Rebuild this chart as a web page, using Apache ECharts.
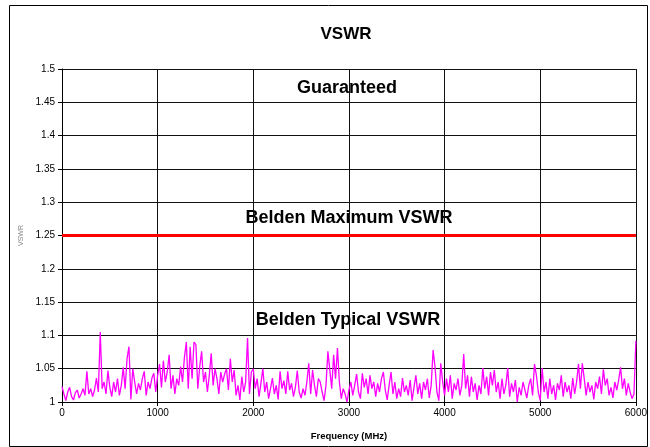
<!DOCTYPE html>
<html>
<head>
<meta charset="utf-8">
<script src="https://cdn.jsdelivr.net/npm/echarts@6/dist/echarts.min.js"></script>
<style>
  html, body { margin: 0; padding: 0; background: #fff; }
  #chart { width: 650px; height: 447px; }
</style>
</head>
<body>
<div id="chart"></div>
<script>
// frequency sweep (MHz), one sample every 20 MHz
var freqMHz = [
  0,20,40,60,80,100,120,140,160,180,200,220,240,260,280,300,320,340,360,380,
  400,420,440,460,480,500,520,540,560,580,600,620,640,660,680,700,720,740,760,780,
  800,820,840,860,880,900,920,940,960,980,1000,1020,1040,1060,1080,1100,1120,1140,1160,1180,
  1200,1220,1240,1260,1280,1300,1320,1340,1360,1380,1400,1420,1440,1460,1480,1500,1520,1540,1560,1580,
  1600,1620,1640,1660,1680,1700,1720,1740,1760,1780,1800,1820,1840,1860,1880,1900,1920,1940,1960,1980,
  2000,2020,2040,2060,2080,2100,2120,2140,2160,2180,2200,2220,2240,2260,2280,2300,2320,2340,2360,2380,
  2400,2420,2440,2460,2480,2500,2520,2540,2560,2580,2600,2620,2640,2660,2680,2700,2720,2740,2760,2780,
  2800,2820,2840,2860,2880,2900,2920,2940,2960,2980,3000,3020,3040,3060,3080,3100,3120,3140,3160,3180,
  3200,3220,3240,3260,3280,3300,3320,3340,3360,3380,3400,3420,3440,3460,3480,3500,3520,3540,3560,3580,
  3600,3620,3640,3660,3680,3700,3720,3740,3760,3780,3800,3820,3840,3860,3880,3900,3920,3940,3960,3980,
  4000,4020,4040,4060,4080,4100,4120,4140,4160,4180,4200,4220,4240,4260,4280,4300,4320,4340,4360,4380,
  4400,4420,4440,4460,4480,4500,4520,4540,4560,4580,4600,4620,4640,4660,4680,4700,4720,4740,4760,4780,
  4800,4820,4840,4860,4880,4900,4920,4940,4960,4980,5000,5020,5040,5060,5080,5100,5120,5140,5160,5180,
  5200,5220,5240,5260,5280,5300,5320,5340,5360,5380,5400,5420,5440,5460,5480,5500,5520,5540,5560,5580,
  5600,5620,5640,5660,5680,5700,5720,5740,5760,5780,5800,5820,5840,5860,5880,5900,5920,5940,5960,5980,
  6000
];

var typicalVswr = [
  1.023,1.012,1.002,1.015,1.022,1.008,1.003,1.014,1.018,1.006,1.012,1.02,1.01,1.046,1.012,1.02,1.008,1.018,1.036,1.015,
  1.105,1.02,1.03,1.012,1.047,1.022,1.008,1.03,1.015,1.035,1.01,1.025,1.052,1.02,1.065,1.083,1.004,1.05,1.03,1.012,
  1.028,1.018,1.035,1.046,1.01,1.03,1.02,1.036,1.043,1.015,1.04,1.057,1.022,1.062,1.03,1.045,1.071,1.02,1.04,1.012,
  1.035,1.025,1.053,1.03,1.067,1.09,1.02,1.083,1.035,1.09,1.086,1.02,1.053,1.076,1.03,1.045,1.015,1.04,1.073,1.025,
  1.05,1.035,1.012,1.045,1.03,1.042,1.05,1.018,1.065,1.03,1.048,1.01,1.025,1.003,1.038,1.015,1.03,1.096,1.012,1.045,
  1.05,1.02,1.035,1.008,1.028,1.05,1.015,1.03,1.005,1.02,1.036,1.012,1.025,1.004,1.046,1.02,1.032,1.012,1.046,1.018,
  1.028,1.008,1.022,1.047,1.015,1.006,1.02,1.01,1.03,1.058,1.012,1.048,1.025,1.008,1.035,1.03,1.015,1.002,1.025,1.076,
  1.073,1.02,1.071,1.035,1.081,1.03,1.005,1.02,1.012,1.0,1.018,1.03,1.01,1.025,1.042,1.015,1.005,1.043,1.022,1.035,
  1.012,1.04,1.02,1.03,1.008,1.028,1.015,1.035,1.045,1.018,1.003,1.025,1.045,1.012,1.03,1.005,1.02,1.008,1.036,1.015,
  1.025,1.01,1.033,1.002,1.022,1.04,1.012,1.028,1.005,1.03,1.018,1.035,1.006,1.025,1.078,1.053,1.015,1.002,1.058,1.03,
  1.01,1.035,1.015,1.04,1.005,1.028,1.018,1.035,1.01,1.025,1.072,1.02,1.04,1.008,1.038,1.015,1.028,1.003,1.025,1.012,
  1.051,1.02,1.038,1.01,1.045,1.025,1.048,1.015,1.03,1.005,1.035,1.012,1.025,1.051,1.008,1.028,1.015,1.033,1.0,1.022,
  1.01,1.03,1.018,1.006,1.025,1.035,1.01,1.057,1.04,1.015,1.002,1.051,1.015,1.03,1.005,1.035,1.012,1.025,1.003,1.028,
  1.018,1.04,1.008,1.03,1.015,1.025,1.005,1.036,1.012,1.03,1.057,1.02,1.058,1.035,1.01,1.03,1.015,1.025,1.004,1.03,
  1.02,1.038,1.012,1.049,1.025,1.035,1.01,1.022,1.006,1.03,1.018,1.033,1.052,1.02,1.035,1.01,1.028,1.015,1.005,1.012,
  1.092
];

// guaranteed maximum
var maxFreq = [0, 6000];
var maxVswr = [1.25, 1.25];

var yMin = 1, yMax = 1.5, yStep = 0.05;
var xMin = 0, xMax = 6000, xStep = 1000;

var font = 'Liberation Sans, Arial, sans-serif';

function pairs(xs, ys) {
  var out = [];
  for (var i = 0; i < xs.length; i++) out.push([xs[i], ys[i]]);
  return out;
}

function note(text, x, y) {
  return {
    type: 'text', x: x, y: y,
    style: { text: text, fontSize: 18, fontWeight: 'bold', fontFamily: font,
             fill: '#000', align: 'center', verticalAlign: 'middle' }
  };
}

var chart = echarts.init(document.getElementById('chart'));
var option = {
  animation: false,
  backgroundColor: '#fff',
  textStyle: { fontFamily: font },
  graphic: [
    {
      type: 'rect', left: 7, top: 3, z: -1,
      shape: { width: 638, height: 441 },
      style: { fill: 'none', stroke: '#000', lineWidth: 1 }
    },
    {
      type: 'text', x: 346, y: 34,
      style: { text: 'VSWR', fontSize: 17, fontWeight: 'bold', fontFamily: font,
               fill: '#000', align: 'center', verticalAlign: 'middle' }
    },
    note('Guaranteed', 347, 88),
    note('Belden Maximum VSWR', 349, 218),
    note('Belden Typical VSWR', 348, 320)
  ],
  grid: { left: 62, right: 14, top: 69, bottom: 45, containLabel: false },
  xAxis: {
    type: 'value',
    min: xMin,
    max: xMax,
    interval: xStep,
    name: 'Frequency (MHz)',
    nameLocation: 'middle',
    nameGap: 29,
    nameTextStyle: { fontSize: 9.5, fontWeight: 'bold', color: '#000', fontFamily: font },
    axisLine: { lineStyle: { color: '#000', width: 1 } },
    axisTick: { show: true, inside: false, length: 4, lineStyle: { color: '#000' } },
    axisLabel: {
      fontSize: 10, color: '#000', margin: 6,
      formatter: function (v) { return String(v); }
    },
    splitLine: { show: true, lineStyle: { color: '#111', width: 1 } }
  },
  yAxis: {
    type: 'value',
    min: yMin,
    max: yMax,
    interval: yStep,
    name: 'VSWR',
    nameLocation: 'middle',
    nameRotate: 90,
    nameGap: 35,
    nameTextStyle: { fontSize: 7, color: '#888', fontFamily: font },
    axisLine: { show: true, lineStyle: { color: '#000', width: 1 } },
    axisTick: { show: true, inside: false, length: 4, lineStyle: { color: '#000' } },
    axisLabel: {
      fontSize: 10, color: '#000', margin: 7,
      formatter: function (v) { return String(Math.round(v * 100) / 100); }
    },
    splitLine: { show: true, lineStyle: { color: '#111', width: 1 } }
  },
  series: [
    {
      name: 'Belden Maximum VSWR',
      type: 'line',
      data: pairs(maxFreq, maxVswr),
      symbol: 'none',
      lineStyle: { color: '#ff0000', width: 3 },
      z: 3
    },
    {
      name: 'Belden Typical VSWR',
      type: 'line',
      data: pairs(freqMHz, typicalVswr),
      symbol: 'none',
      lineStyle: { color: '#ff00ff', width: 1.3 },
      z: 4
    }
  ]
};
chart.setOption(option);
</script>
</body>
</html>
